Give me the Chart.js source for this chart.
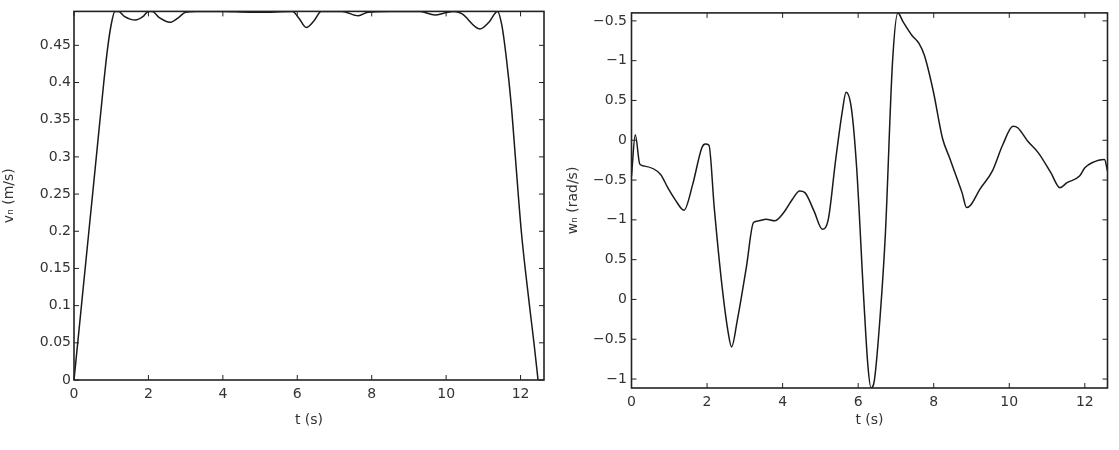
<!DOCTYPE html>
<html>
<head>
<meta charset="utf-8">
<script src="https://cdn.jsdelivr.net/npm/chart.js@4"></script>
<style>
  body { margin: 0; background: #fff; }
  #wrap { position: relative; width: 1119px; height: 450px; }
  #leftChart { position: absolute; left: 0; top: 0; }
  #rightChart { position: absolute; left: 560px; top: 0; }
</style>
</head>
<body>
<div id="wrap">
  <canvas id="leftChart" width="560" height="450"></canvas>
  <canvas id="rightChart" width="559" height="450"></canvas>
</div>
<script>
// shared time axis ticks
const xTicks = [0, 2, 4, 6, 8, 10, 12];
const xLabels = ['0', '2', '4', '6', '8', '10', '12'];

// left panel: linear velocity v_n (m/s)
const tLeft = [0, 0.2, 0.4, 0.6, 0.8, 0.9, 1.0, 1.1, 1.2, 1.35, 1.65, 1.85, 2.0, 2.1,
  2.3, 2.58, 2.8, 3.0, 3.3, 4.0, 4.7, 5.3, 5.87, 6.05, 6.24, 6.45, 6.64, 7.2,
  7.64, 7.9, 8.5, 9.3, 9.7, 10.0, 10.2, 10.42, 10.91, 11.15, 11.38, 11.5, 11.62,
  11.75, 11.86, 12.02, 12.24, 12.36, 12.47];
const vLeft = [0, 0.1, 0.2, 0.3, 0.4, 0.445, 0.478, 0.4955, 0.4955, 0.489, 0.484, 0.4885, 0.4955, 0.4955,
  0.487, 0.481, 0.487, 0.4945, 0.4955, 0.4955, 0.4945, 0.4945, 0.4955, 0.486, 0.474, 0.483, 0.4955, 0.4955,
  0.4898, 0.4945, 0.4955, 0.4955, 0.4907, 0.494, 0.4955, 0.4925, 0.472, 0.481, 0.4955, 0.476, 0.432,
  0.37, 0.3, 0.2, 0.1, 0.05, 0];
const leftYTicks = [0, 0.05, 0.1, 0.15, 0.2, 0.25, 0.3, 0.35, 0.4, 0.45];
const leftYLabels = ['0', '0.05', '0.1', '0.15', '0.2', '0.25', '0.3', '0.35', '0.4', '0.45'];

// right panel: angular velocity w_n (rad/s), tick labels as printed in the figure
const tRight = [0, 0.1, 0.22, 0.35, 0.77, 0.96, 1.15, 1.39, 1.62, 1.86, 1.95, 2.05, 2.19, 2.38,
  2.55, 2.65, 2.8, 3.04, 3.23, 3.37, 3.56, 3.79, 4.03, 4.26, 4.45, 4.59, 4.83, 5.05,
  5.21, 5.4, 5.58, 5.68, 5.82, 5.96, 6.15, 6.26, 6.34, 6.43, 6.58, 6.72, 6.91, 7.05,
  7.19, 7.42, 7.61, 7.75, 7.99, 8.23, 8.42, 8.61, 8.75, 8.87, 8.98, 9.22, 9.55, 9.83,
  10.1, 10.23, 10.49, 10.77, 11.1, 11.34, 11.53, 11.86, 12.0, 12.19, 12.52, 12.6];
const wRight = [1.55, 2.07, 1.7, 1.675, 1.571, 1.404, 1.258, 1.121, 1.446, 1.904, 1.954, 1.938, 1.154, 0.2375,
  -0.3875, -0.596, -0.2625, 0.404, 0.967, 0.9875, 1.008, 0.9875, 1.092, 1.258, 1.3625, 1.342, 1.1125, 0.883,
  1.008, 1.7375, 2.3625, 2.604, 2.404, 1.654, -0.0125, -0.846, -1.11, -1.0125, -0.221, 0.821, 2.9875, 3.6,
  3.4875, 3.32, 3.217, 3.07, 2.6125, 2.029, 1.779, 1.529, 1.342, 1.154, 1.1875, 1.383, 1.6125, 1.946,
  2.175, 2.154, 1.9875, 1.842, 1.592, 1.404, 1.467, 1.55, 1.654, 1.717, 1.758, 1.6125];
const rightYTicks = [-1, -0.5, 0, 0.5, 1, 1.5, 2, 2.5, 3, 3.5];
const rightYLabels = ['\u22121', '\u22120.5', '0', '0.5', '\u22121', '\u22120.5', '0', '0.5', '\u22121', '\u22120.5'];

const textColor = '#333';
const font = { family: 'DejaVu Sans', size: 14 };

// box around the plot and inward tick marks on all four sides
const frameTicks = {
  id: 'frameTicks',
  afterDatasetsDraw(chart) {
    const { ctx, chartArea: a, scales: { x, y } } = chart;
    ctx.save();
    ctx.strokeStyle = '#222';
    ctx.lineWidth = 1;
    ctx.beginPath();
    x.ticks.forEach(t => {
      const px = x.getPixelForValue(t.value);
      ctx.moveTo(px, a.bottom); ctx.lineTo(px, a.bottom - 5);
      ctx.moveTo(px, a.top); ctx.lineTo(px, a.top + 5);
    });
    y.ticks.forEach(t => {
      const py = y.getPixelForValue(t.value);
      ctx.moveTo(a.left, py); ctx.lineTo(a.left + 5, py);
      ctx.moveTo(a.right, py); ctx.lineTo(a.right - 5, py);
    });
    ctx.stroke();
    ctx.lineWidth = 1.6;
    ctx.strokeRect(a.left, a.top, a.right - a.left, a.bottom - a.top);
    ctx.restore();
  }
};

function makeChart(id, ts, vs, o) {
  new Chart(document.getElementById(id), {
    type: 'line',
    data: {
      datasets: [{
        data: ts.map((t, i) => ({ x: t, y: vs[i] })),
        borderColor: '#1a1a1a',
        borderWidth: 1.5,
        pointRadius: 0,
        cubicInterpolationMode: 'monotone',
        fill: false
      }]
    },
    options: {
      responsive: false,
      animation: false,
      devicePixelRatio: 1,
      layout: { padding: o.padding },
      plugins: { legend: { display: false }, tooltip: { enabled: false } },
      scales: {
        x: {
          type: 'linear',
          min: 0,
          max: o.xMax,
          afterBuildTicks: s => { s.ticks = xTicks.map(v => ({ value: v })); },
          afterFit: s => { s.height = o.xHeight; },
          grid: { display: false, drawTicks: false },
          border: { display: false },
          ticks: {
            autoSkip: false, maxRotation: 0, padding: 5.5, color: textColor, font,
            callback: (v, i) => xLabels[i]
          },
          title: { display: true, text: 't (s)', color: textColor, font, padding: { top: 0, bottom: o.xTitlePad } }
        },
        y: {
          min: o.yMin,
          max: o.yMax,
          afterBuildTicks: s => { s.ticks = o.yTicks.map(v => ({ value: v })); },
          afterFit: s => { s.width = o.yWidth; },
          grid: { display: false, drawTicks: false },
          border: { display: false },
          ticks: {
            autoSkip: false, padding: o.yTickPad, color: textColor, font,
            callback: (v, i) => o.yLabels[i]
          },
          title: { display: true, text: o.yTitle, color: textColor, font, padding: { top: o.yTitlePad, bottom: 0 } }
        }
      }
    },
    plugins: [frameTicks]
  });
}

makeChart('leftChart', tLeft, vLeft, {
  padding: { left: 0, top: 9, right: 16, bottom: 0 },
  xMax: 12.63, xHeight: 70, xTitlePad: 21,
  yMin: 0, yMax: 0.4956, yTicks: leftYTicks, yLabels: leftYLabels,
  yWidth: 74, yTickPad: 3, yTitle: 'vₙ (m/s)', yTitlePad: 0.5
});

makeChart('rightChart', tRight, wRight, {
  padding: { left: 0, top: 11, right: 11.5, bottom: 0 },
  xMax: 12.6, xHeight: 62, xTitlePad: 21.5,
  yMin: -1.1125, yMax: 3.6, yTicks: rightYTicks, yLabels: rightYLabels,
  yWidth: 71.5, yTickPad: 4.5, yTitle: 'wₙ (rad/s)', yTitlePad: 5
});
</script>
</body>
</html>
